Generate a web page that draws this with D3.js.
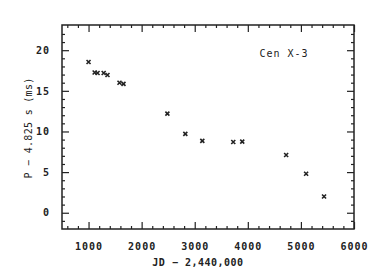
<!DOCTYPE html>
<html><head><meta charset="utf-8">
<script src="https://cdn.jsdelivr.net/npm/d3@7"></script>
<style>
html,body{margin:0;padding:0;background:#fff;}
svg{display:block;}
text{font-family:"DejaVu Sans Mono",monospace;fill:#222;}
</style></head>
<body>
<svg id="c" width="372" height="275"></svg>
<script>
const jd = [1000,1115,1170,1285,1357,1583,1658,2485,2823,3143,3726,3895,4722,5098,5436];
const dP = [18.55,17.25,17.2,17.2,16.95,16.0,15.85,12.2,9.7,8.85,8.7,8.75,7.1,4.8,2.0];
const xTicks = [1000,2000,3000,4000,5000,6000];
const yTicks = [0,5,10,15,20];
const xLabel = "JD − 2,440,000";
const yLabel = "P − 4.825 s   (ms)";
const tag = "Cen X-3";

const svg = d3.select("#c");
const L=62,R=354,T=25,B=229;
const x = d3.scaleLinear().domain([500,6000]).range([L,R]);
const y = d3.scaleLinear().domain([-2,23.1]).range([B,T]);
const ink="#222";

const xMinor = d3.range(600,6000,200).filter(v=>!xTicks.includes(v));
const yMinor = d3.range(-1,23,1).filter(v=>!yTicks.includes(v));

function axis(gen, pos, major, minor, labels){
  const g = svg.append("g").attr("transform",pos);
  g.call(gen.tickValues(minor).tickSize(3).tickFormat(""));
  const g2 = svg.append("g").attr("transform",pos);
  g2.call(gen.tickValues(major).tickSize(7).tickPadding(labels?11:0).tickFormat(labels?d3.format("d"):""));
  [g,g2].forEach(s=>{s.select(".domain").remove(); s.selectAll("line").attr("stroke",ink).attr("stroke-width",1.2);});
  return g2;
}
// bottom (ticks inward = up)
const gb = axis(d3.axisTop(x), `translate(0,${B})`, xTicks, xMinor, true);
gb.selectAll("text").attr("y",14).attr("dy","0.71em").style("font-size","10px").style("letter-spacing","1px").attr("font-weight","bold");
axis(d3.axisBottom(x), `translate(0,${T})`, xTicks, xMinor, false);
// left (ticks inward = right)
const gl = axis(d3.axisRight(y), `translate(${L},0)`, yTicks, yMinor, true);
gl.selectAll("text").attr("x",-12).attr("text-anchor","end").style("font-size","10px").style("letter-spacing","1px").attr("font-weight","bold");
axis(d3.axisLeft(y), `translate(${R},0)`, yTicks, yMinor, false);

svg.append("rect").attr("x",L).attr("y",T).attr("width",R-L).attr("height",B-T)
  .attr("fill","none").attr("stroke",ink).attr("stroke-width",1.5);

svg.append("text").attr("x",198).attr("y",266).attr("text-anchor","middle")
  .style("font-size","10px").style("letter-spacing","0.5px").attr("font-weight","bold").text(xLabel);
svg.append("text").attr("transform","translate(32,128) rotate(-90)").attr("text-anchor","middle")
  .style("font-size","10px").style("letter-spacing","0.3px").text(yLabel);
svg.append("text").attr("x",284).attr("y",57).attr("text-anchor","middle")
  .style("font-size","10px").style("letter-spacing","1px").text(tag);

const pts = jd.map((v,i)=>[v,dP[i]]);
const s=2;
const g = svg.append("g").attr("stroke",ink).attr("stroke-width",1.6);
pts.forEach(([a,b])=>{
  const cx=x(a), cy=y(b);
  g.append("path").attr("d",`M${cx-s},${cy-s}L${cx+s},${cy+s}M${cx-s},${cy+s}L${cx+s},${cy-s}`);
});
</script>
</body></html>
